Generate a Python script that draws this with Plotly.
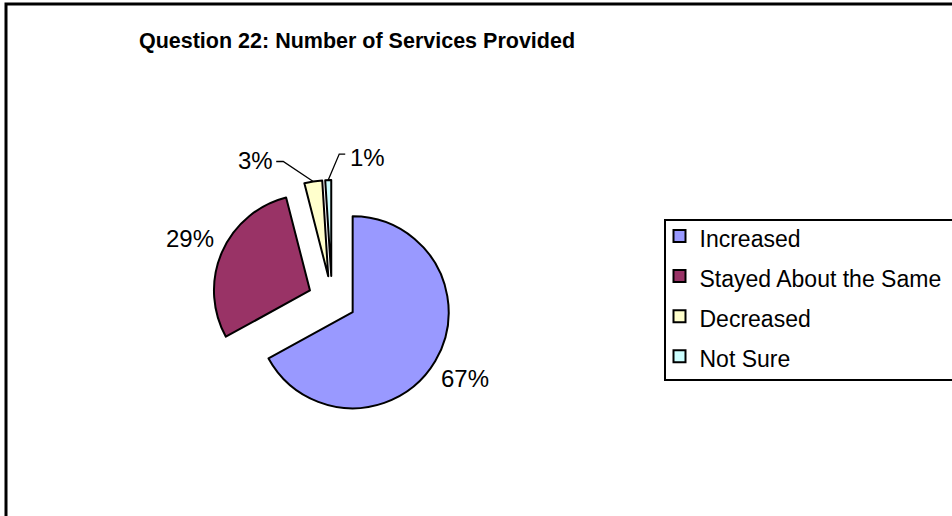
import math
import plotly.graph_objects as go

# ---- data ----
categories = ["Increased", "Stayed About the Same", "Decreased", "Not Sure"]
values = [67, 29, 3, 1]
colors = ["#9999FF", "#993366", "#FFFFCC", "#CCFFFF"]
title_text = "Question 22: Number of Services Provided"

# ---- layout constants (pixels) ----
W, H = 952, 516
PIE_CX, PIE_CY, PIE_BOX = 332, 300, 240
PULL = 0.25
FONT = "Liberation Sans, Arial, sans-serif"
LABEL_SIZE = 24
LEGEND_TEXT_SIZE = 23
LEGEND_ROW_SIZE = 28.5   # controls legend row spacing
LABEL_GAP = 35
LEGEND_BOX = (665, 220, 965, 380)  # left, top, right, bottom (px)
# callout text offsets (px, relative to the slice's outer mid point) for tiny slices
CALLOUTS = {
    "Decreased": dict(text=(-58, -21), elbow=(-30, -20), end=(-37, -20)),
    "Not Sure": dict(text=(39, -23), elbow=(11, -26), end=(17, -26)),
}


def px(x):
    return x / W


def py(y):
    return 1 - y / H


total = sum(values)
r = PIE_BOX / 2 / (1 + PULL)
legend_labels = [f'<span style="font-size:{LEGEND_TEXT_SIZE}px">{c}</span>' for c in categories]

fig = go.Figure()
fig.add_trace(go.Pie(
    labels=legend_labels,
    values=values,
    sort=False,
    direction="clockwise",
    rotation=0,
    pull=[PULL] * len(values),
    marker=dict(colors=colors, line=dict(color="black", width=2)),
    textinfo="none",
    hoverinfo="label+percent",
    domain=dict(x=[px(PIE_CX - PIE_BOX / 2), px(PIE_CX + PIE_BOX / 2)],
                y=[py(PIE_CY + PIE_BOX / 2), py(PIE_CY - PIE_BOX / 2)]),
    showlegend=True,
))

annotations = []
shapes = []
cum = 0.0
for cat, v in zip(categories, values):
    a0 = cum / total * 360
    cum += v
    a1 = cum / total * 360
    mid = math.radians((a0 + a1) / 2)
    dx, dy = math.sin(mid), -math.cos(mid)
    pcx = PIE_CX + PULL * r * dx
    pcy = PIE_CY + PULL * r * dy
    label = f"{v / total * 100:.0f}%"
    if cat in CALLOUTS:
        c = CALLOUTS[cat]
        ox, oy = pcx + r * dx, pcy + r * dy
        tx, ty = ox + c["text"][0], oy + c["text"][1]
        ex, ey = ox + c["elbow"][0], oy + c["elbow"][1]
        hx, hy = ox + c["end"][0], oy + c["end"][1]
        shapes.append(dict(type="path", xref="paper", yref="paper",
                           path=f"M {px(ox)} {py(oy)} L {px(ex)} {py(ey)} L {px(hx)} {py(hy)}",
                           line=dict(color="black", width=1.3)))
    else:
        tx, ty = pcx + (r + LABEL_GAP) * dx, pcy + (r + LABEL_GAP) * dy
    annotations.append(dict(x=px(tx), y=py(ty), xref="paper", yref="paper",
                            text=label, showarrow=False, xanchor="center", yanchor="middle",
                            font=dict(family=FONT, size=LABEL_SIZE, color="black")))

# chart area border
shapes.append(dict(type="rect", xref="paper", yref="paper",
                   x0=px(6), x1=1.05, y0=-0.05, y1=py(4),
                   line=dict(color="black", width=3), fillcolor="rgba(0,0,0,0)"))
# legend frame
lx0, ly0, lx1, ly1 = LEGEND_BOX
shapes.append(dict(type="rect", xref="paper", yref="paper",
                   x0=px(lx0), x1=px(lx1), y0=py(ly1), y1=py(ly0),
                   line=dict(color="black", width=2), fillcolor="rgba(0,0,0,0)"))

fig.update_layout(
    width=W, height=H,
    margin=dict(l=0, r=0, t=0, b=0),
    paper_bgcolor="white",
    plot_bgcolor="white",
    title=dict(text=title_text, x=px(357), xanchor="center", y=py(40), yanchor="middle",
               font=dict(family=FONT, size=21.5, color="black", weight="bold")),
    legend=dict(x=px(lx0 - 5.5), xanchor="left", y=py(ly0 - 9), yanchor="top",
                borderwidth=0, bgcolor="rgba(0,0,0,0)",
                font=dict(family=FONT, size=LEGEND_ROW_SIZE, color="black")),
    annotations=annotations,
    shapes=shapes,
)

fig.write_html("out.html", config={"displayModeBar": False},
               post_script="document.body.style.margin='0';document.body.style.overflow='hidden';")
